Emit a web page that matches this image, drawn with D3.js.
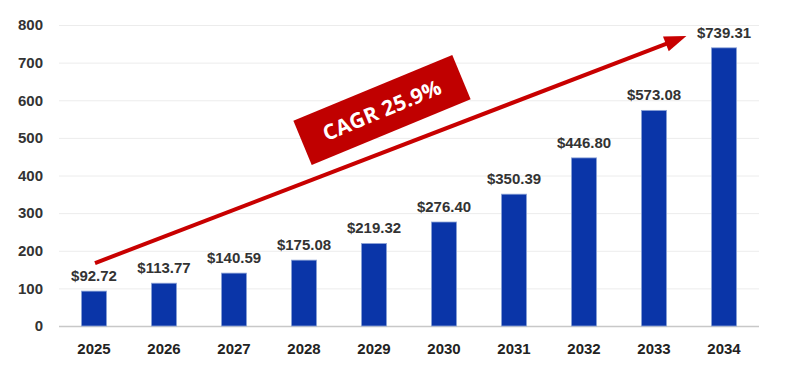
<!DOCTYPE html>
<html>
<head>
<meta charset="utf-8">
<script src="https://cdn.jsdelivr.net/npm/d3@7"></script>
<style>
  body { margin: 0; background: #fff; }
  text { font-family: "Liberation Sans", Arial, sans-serif; }
</style>
</head>
<body>
<svg id="chart"></svg>
<script>
// chart data
const years = ["2025", "2026", "2027", "2028", "2029", "2030", "2031", "2032", "2033", "2034"];
const marketSize = [92.72, 113.77, 140.59, 175.08, 219.32, 276.40, 350.39, 446.80, 573.08, 739.31];
const yTicks = [0, 100, 200, 300, 400, 500, 600, 700, 800];
const cagrLabel = "CAGR 25.9%";

const width = 796, height = 372;
const margin = {top: 25, right: 37, bottom: 46, left: 59};
const innerW = width - margin.left - margin.right;
const innerH = height - margin.top - margin.bottom;

const svg = d3.select('#chart')
    .attr('width', width)
    .attr('height', height);

const chart = svg.append('g')
    .attr('transform', `translate(${margin.left},${margin.top})`);

const xScale = d3.scaleBand()
    .domain(years)
    .range([0, innerW])
    .paddingInner(0.64)
    .paddingOuter(0.32);

const yScale = d3.scaleLinear()
    .domain([0, 800])
    .range([innerH, 0]);

// gridlines + y labels
const yAxis = d3.axisLeft(yScale)
    .tickValues(yTicks)
    .tickSize(-innerW)
    .tickPadding(16);

chart.append('g')
    .call(yAxis)
    .call(g => g.select('.domain').remove())
    .call(g => g.selectAll('.tick line')
        .attr('stroke', d => d === 0 ? '#c8c8c8' : '#ececec')
        .attr('stroke-width', d => d === 0 ? 1.5 : 1))
    .call(g => g.selectAll('.tick text')
        .attr('fill', '#333')
        .style('font-size', '15px')
        .style('font-weight', 'bold'));

// x labels
const xAxis = d3.axisBottom(xScale).tickSize(0).tickPadding(17);
chart.append('g')
    .attr('transform', `translate(0,${innerH})`)
    .call(xAxis)
    .call(g => g.select('.domain').remove())
    .call(g => g.selectAll('.tick text')
        .attr('fill', '#222')
        .style('font-size', '15px')
        .style('font-weight', 'bold'));

// bars
chart.selectAll('.bar')
    .data(marketSize)
    .join('rect')
    .attr('class', 'bar')
    .attr('x', (d, i) => xScale(years[i]))
    .attr('y', d => yScale(d))
    .attr('width', xScale.bandwidth())
    .attr('height', d => innerH - yScale(d))
    .attr('fill', '#0a35a8')
    .attr('stroke', '#8fa5d8')
    .attr('stroke-width', 0.8);

// value labels
chart.selectAll('.val')
    .data(marketSize)
    .join('text')
    .attr('class', 'val')
    .attr('x', (d, i) => xScale(years[i]) + xScale.bandwidth() / 2)
    .attr('y', d => yScale(d) - 10)
    .attr('text-anchor', 'middle')
    .attr('fill', '#333')
    .style('font-size', '15px')
    .style('font-weight', 'bold')
    .text(d => '$' + d.toFixed(2));

// growth arrow
const x0 = xScale(years[0]) + xScale.bandwidth() / 2 + 1;
const y0 = yScale(marketSize[0]) - 28;
const x1 = xScale(years[9]) - 25;
const y1 = yScale(800) + 11;
const ang = Math.atan2(y1 - y0, x1 - x0);
const headLen = 22, headW = 8;

chart.append('line')
    .attr('x1', x0).attr('y1', y0)
    .attr('x2', x1 - Math.cos(ang) * headLen * 0.8)
    .attr('y2', y1 - Math.sin(ang) * headLen * 0.8)
    .attr('stroke', '#c80000')
    .attr('stroke-width', 4);

const bx = x1 - Math.cos(ang) * headLen, by = y1 - Math.sin(ang) * headLen;
chart.append('path')
    .attr('d', `M${x1},${y1}L${bx + Math.sin(ang) * headW},${by - Math.cos(ang) * headW}L${bx - Math.sin(ang) * headW},${by + Math.cos(ang) * headW}Z`)
    .attr('fill', '#c80000');

// CAGR tag
const tag = chart.append('g')
    .attr('transform', `translate(${382 - margin.left},${110 - margin.top}) rotate(-22.5)`);
tag.append('rect')
    .attr('x', -86).attr('y', -24)
    .attr('width', 172).attr('height', 48)
    .attr('fill', '#c00000');
tag.append('text')
    .attr('text-anchor', 'middle')
    .attr('dy', '0.36em')
    .attr('fill', '#fff')
    .style('font-family', '"Open Sans", sans-serif')
    .style('font-size', '21px')
    .style('font-weight', 'bold')
    .style('letter-spacing', '0.3px')
    .text(cagrLabel);
</script>
</body>
</html>
